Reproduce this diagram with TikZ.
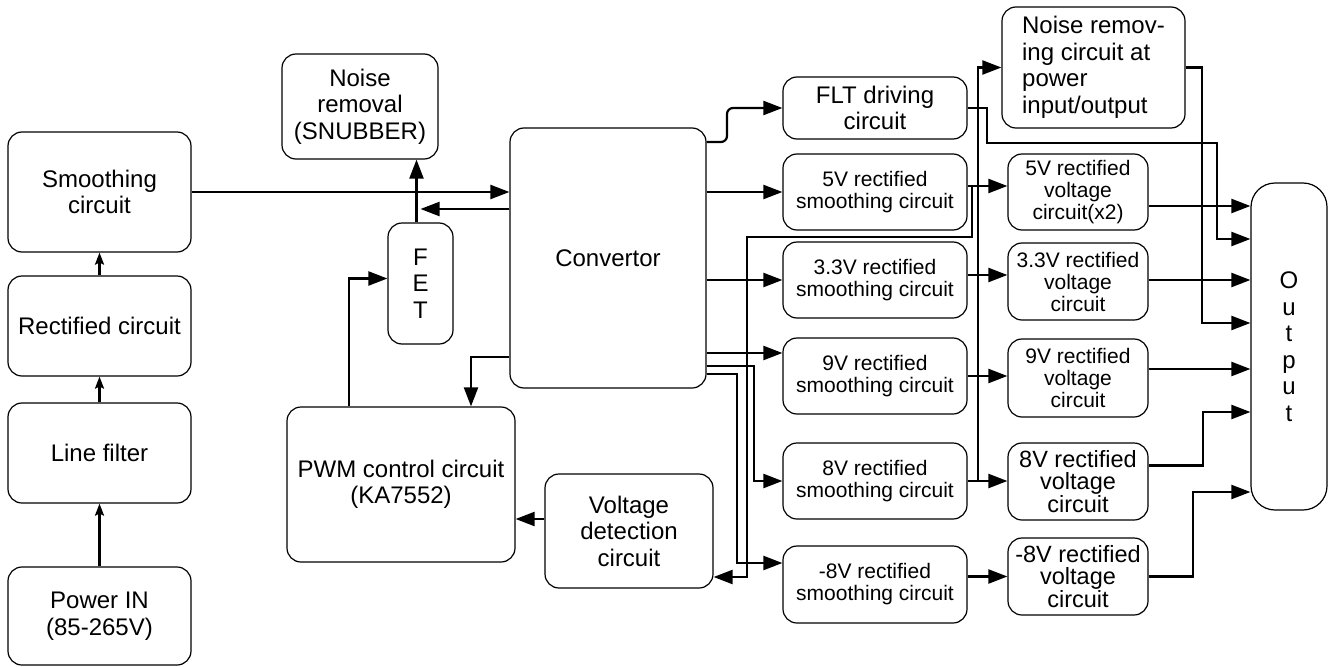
\documentclass[tikz,border=0pt]{standalone}
\usepackage{fontspec}
\setmainfont{Liberation Sans}
\usetikzlibrary{arrows.meta}

\begin{document}
\begin{tikzpicture}[x=1pt, y=-1pt,
    blk/.style={draw, line width=1.2pt, rounded corners=14pt, align=center, inner sep=1pt,
      font=\fontsize{24}{26.5}\selectfont},
    small/.style={font=\fontsize{21}{22}\selectfont},
    wire/.style={line width=2.2pt, -{Triangle[length=19pt,width=14pt]}},
    up/.style={line width=2.2pt, -{Stealth[length=12pt,width=9pt,inset=2pt]}}]
  \useasboundingbox (0,0) rectangle (1337,666);

  \node[blk, minimum width=183pt, minimum height=120pt] (smooth) at (99.5,192) {Smoothing\\circuit};
  \node[blk, minimum width=183pt, minimum height=100pt] (rect) at (99.5,326) {Rectified circuit};
  \node[blk, minimum width=183pt, minimum height=100pt] (lfilt) at (99.5,453) {Line filter};
  \node[blk, minimum width=183pt, minimum height=98pt] (power) at (99.5,616) {Power IN\\(85-265V)};

  \node[blk, minimum width=156pt, minimum height=105pt] (snub) at (360,106.5) {Noise\\removal\\(SNUBBER)};
  \node[blk, minimum width=65pt, minimum height=121pt] (fet) at (420.5,283.5) {F\\E\\T};
  \node[blk, minimum width=228pt, minimum height=155pt] (pwm) at (401,484.5) {PWM control circuit\\(KA7552)};
  \node[blk, minimum width=168pt, minimum height=114pt] (vdet) at (629,531) {Voltage\\detection\\circuit};
  \node[blk, minimum width=196pt, minimum height=260pt] (conv) at (608,258) {Convertor};

  \node[blk, minimum width=184pt, minimum height=62pt] (flt) at (875,108) {FLT driving\\circuit};
  \node[blk, small, minimum width=184pt, minimum height=76pt] (s5) at (875,192) {5V rectified\\smoothing circuit};
  \node[blk, small, minimum width=184pt, minimum height=76pt] (s33) at (875,280) {3.3V rectified\\smoothing circuit};
  \node[blk, small, minimum width=184pt, minimum height=76pt] (s9) at (875,376) {9V rectified\\smoothing circuit};
  \node[blk, small, minimum width=184pt, minimum height=76pt] (s8) at (875,481) {8V rectified\\smoothing circuit};
  \node[blk, small, minimum width=184pt, minimum height=77pt] (sm8) at (875,584.5) {-8V rectified\\smoothing circuit};

  \node[blk, align=left, minimum width=183pt, minimum height=121pt] (noise) at (1093.5,67.5) {Noise remov-\\ing circuit at\\power\\input/output};
  \node[blk, small, minimum width=140pt, minimum height=76pt] (v5) at (1078,192) {5V rectified\\voltage\\circuit(x2)};
  \node[blk, small, minimum width=140pt, minimum height=77pt] (v33) at (1078,281.5) {3.3V rectified\\voltage\\circuit};
  \node[blk, small, minimum width=140pt, minimum height=78pt] (v9) at (1078,378) {9V rectified\\voltage\\circuit};
  \node[blk, font=\fontsize{23.5}{21.5}\selectfont, minimum width=140pt, minimum height=77pt] (v8) at (1078,481.5) {8V rectified\\voltage\\circuit};
  \node[blk, font=\fontsize{23.5}{21.5}\selectfont, minimum width=140pt, minimum height=77pt] (vm8) at (1078,576.5) {-8V rectified\\voltage\\circuit};
  \node[blk, rounded corners=24pt, minimum width=76pt, minimum height=327pt] (out) at (1289,346.5) {O\\u\\t\\p\\u\\t};

  \draw[up] (power) -- (lfilt);
  \draw[up] (lfilt) -- (rect);
  \draw[up] (rect) -- (smooth);
  \draw[wire] (smooth.east) -- (smooth.east -| conv.west);
  \draw[wire] (conv.west |- 0,209) -- (fet.north |- 0,209);
  \draw[wire] ([xshift=-4pt]fet.north) -- ([xshift=-4pt]fet.north |- snub.south);
  \draw[wire] ([xshift=-52pt]pwm.north) |- ([yshift=5pt]fet.west);
  \draw[wire] (conv.west |- 0,357) -| ([xshift=70pt]pwm.north);
  \draw[wire] ([yshift=12pt]vdet.west) -- ([yshift=12pt]vdet.west -| pwm.east);

  \draw[wire, rounded corners=6pt] (conv.east |- 0,142) -- (727,142) |- (flt.west);
  \draw[wire] (conv.east |- s5.west) -- (s5.west);
  \draw[wire] (conv.east |- s33.west) -- (s33.west);
  \draw[wire] (conv.east |- 0,353) -- (s9.west |- 0,353);
  \draw[wire] (conv.east |- 0,366) -- (754,366) |- (s8.west);
  \draw[wire] (conv.east |- 0,374) -- (737,374) |- (sm8.west |- 0,563);

  \draw[wire] ([yshift=6pt]s5.east) -- ([yshift=6pt]s5.east -| v5.west);
  \draw[wire] ([yshift=6pt]s5.east) -- (972,186) |- (747,237) |- (vdet.east |- 0,577);
  \draw[wire] ([yshift=5pt]s33.east) -- ([yshift=5pt]s33.east -| v33.west);
  \draw[wire] (s9.east) -- (s9.east -| v9.west);
  \draw[wire] (s8.east) -- (s8.east -| v8.west);
  \draw[wire] (s8.east) -- (978,481) |- (noise.west);
  \draw[wire] (sm8.east |- vm8.west) -- (vm8.west);

  \draw[wire] (flt.east) -- (987,108) |- (1217,143) |- (out.west |- 0,239);
  \draw[wire] (noise.east) -- (1202,67.5) |- (out.west |- 0,323);
  \draw[wire] ([yshift=-14pt]v5.east) -- ([yshift=-14pt]v5.east -| out.west);
  \draw[wire] (v33.east |- 0,280) -- (out.west |- 0,280);
  \draw[wire] ([yshift=9pt]v9.east) -- ([yshift=9pt]v9.east -| out.west);
  \draw[wire] ([yshift=16pt]v8.east) -- (1203,465.5) |- (out.west |- 0,412);
  \draw[wire] (vm8.east) -- (1193,576.5) |- (out.west |- 0,492);
\end{tikzpicture}
\end{document}
